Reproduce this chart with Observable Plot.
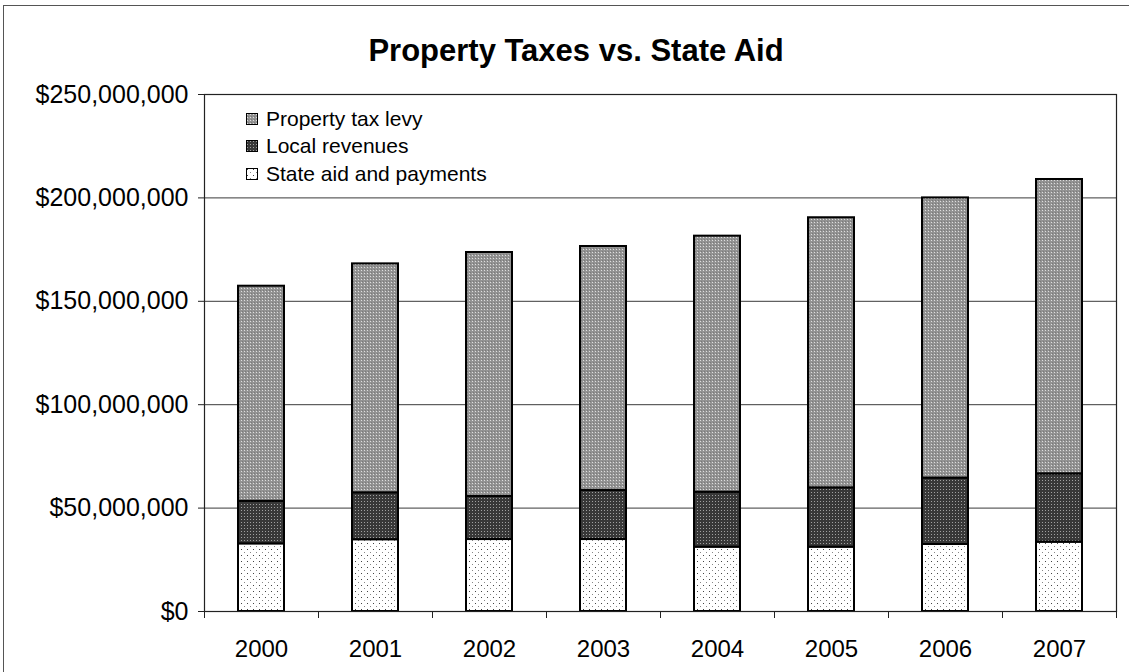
<!DOCTYPE html>
<html>
<head>
<meta charset="utf-8">
<script src="https://cdn.jsdelivr.net/npm/d3@7"></script>
<script src="https://cdn.jsdelivr.net/npm/@observablehq/plot@0.6"></script>
<style>
  body { margin: 0; background: #fff; font-family: "Liberation Sans", Arial, sans-serif; }
  #wrap { position: relative; width: 1129px; height: 672px; overflow: hidden; background: #fff; }
  #border { position: absolute; left: 3px; top: 5px; width: 1300px; height: 900px; border-left: 1px solid #555; border-top: 1px solid #555; pointer-events: none; }
  #title { height: 41px; padding-top: 33px; padding-left: 23px; text-align: center; font-size: 31px; font-weight: bold; line-height: normal; color: #000; }
  #chart svg { display: block; }
  #legend { position: absolute; left: 246px; top: 105px; font-size: 21px; color: #000; }
  .row { display: flex; align-items: center; height: 27.5px; white-space: nowrap; }
  .sw { width: 12px; height: 12px; margin-right: 8px; display: block; }
</style>
</head>
<body>
<div id="wrap">
  <div id="border"></div>
  <div id="title">Property Taxes vs. State Aid</div>
  <div id="chart"></div>
  <div id="legend"></div>
</div>
<script>
// ---- data (dollars) ----
const years = ["2000", "2001", "2002", "2003", "2004", "2005", "2006", "2007"];
const stateAid = [32700000, 34700000, 34800000, 34800000, 31100000, 31100000, 32400000, 33500000];
const localRevenues = [20600000, 22700000, 20800000, 23700000, 26600000, 28700000, 32100000, 33100000];
const propertyTaxLevy = [104000000, 110700000, 118000000, 118000000, 123800000, 130600000, 135500000, 142300000];
const seriesNames = ["State aid and payments", "Local revenues", "Property tax levy"];
const legendOrder = ["Property tax levy", "Local revenues", "State aid and payments"];
const yTicks = [0, 50000000, 100000000, 150000000, 200000000, 250000000];

const patternIds = {
  "State aid and payments": "pState",
  "Local revenues": "pLocal",
  "Property tax levy": "pLevy"
};

// table for Plot (stack order: state aid bottom, local, levy top)
const table = [];
years.forEach((yr, i) => {
  table.push({year: yr, series: seriesNames[0], value: stateAid[i]});
  table.push({year: yr, series: seriesNames[1], value: localRevenues[i]});
  table.push({year: yr, series: seriesNames[2], value: propertyTaxLevy[i]});
});

const width = 1129, height = 598;
const marginLeft = 204, marginRight = 13, marginTop = 20, marginBottom = 61;
const step = (width - marginLeft - marginRight) / years.length;

const chart = Plot.plot({
  width, height, marginLeft, marginRight, marginTop, marginBottom,
  style: {fontFamily: "'Liberation Sans', Arial, sans-serif", fontSize: "24px", color: "#000", background: "#fff", overflow: "visible"},
  x: {domain: years, paddingInner: 0.6, paddingOuter: 0.3, label: null},
  y: {domain: [0, 250000000], label: null},
  color: {domain: seriesNames, range: seriesNames.map(s => `url(#${patternIds[s]})`)},
  marks: [
    Plot.gridY(yTicks, {stroke: "#3a3a3a", strokeOpacity: 1, strokeWidth: 1}),
    Plot.barY(table, {x: "year", y: "value", fill: "series", stroke: "#000", strokeWidth: 2}),
    Plot.frame({stroke: "#222", strokeWidth: 1.2}),
    Plot.axisY(yTicks, {tickSize: 6, tickPadding: 10, fontSize: 25, tickFormat: d3.format("$,"), label: null, stroke: "#222"}),
    Plot.axisX({tickSize: 0, tickPadding: 28, fontSize: 24, label: null}),
    Plot.axisX({tickSize: 7, tickFormat: () => "", dx: -step / 2, label: null, stroke: "#222"}),
    Plot.axisX([years[years.length - 1]], {tickSize: 7, tickFormat: () => "", dx: step / 2, label: null, stroke: "#222"})
  ]
});

// halftone-like patterns
const defs = document.createElementNS("http://www.w3.org/2000/svg", "defs");
defs.innerHTML = `
  <pattern id="pState" width="6" height="6" patternUnits="userSpaceOnUse">
    <rect width="6" height="6" fill="#fff"/>
    <rect x="1" y="1" width="1" height="1" fill="#444"/>
    <rect x="4" y="4" width="1" height="1" fill="#888"/>
  </pattern>
  <pattern id="pLocal" width="3" height="3" patternUnits="userSpaceOnUse">
    <rect width="3" height="3" fill="#383838"/>
    <rect x="1" y="1" width="1" height="1" fill="#a0a0a0"/>
  </pattern>
  <pattern id="pLevy" width="3" height="3" patternUnits="userSpaceOnUse">
    <rect width="3" height="3" fill="#939393"/>
    <rect x="1" y="1" width="1" height="1" fill="#dedede"/>
    <rect x="2" y="0" width="1" height="1" fill="#7a7a7a"/>
  </pattern>`;
chart.insertBefore(defs, chart.firstChild);
document.getElementById("chart").appendChild(chart);

// legend
const legend = document.getElementById("legend");
legendOrder.forEach(name => {
  const row = document.createElement("div");
  row.className = "row";
  row.innerHTML = `<svg class="sw" width="12" height="12"><rect x="0.5" y="0.5" width="11" height="11" fill="url(#${patternIds[name]})" stroke="#000" stroke-width="1"/></svg><span>${name}</span>`;
  legend.appendChild(row);
});
</script>
</body>
</html>
